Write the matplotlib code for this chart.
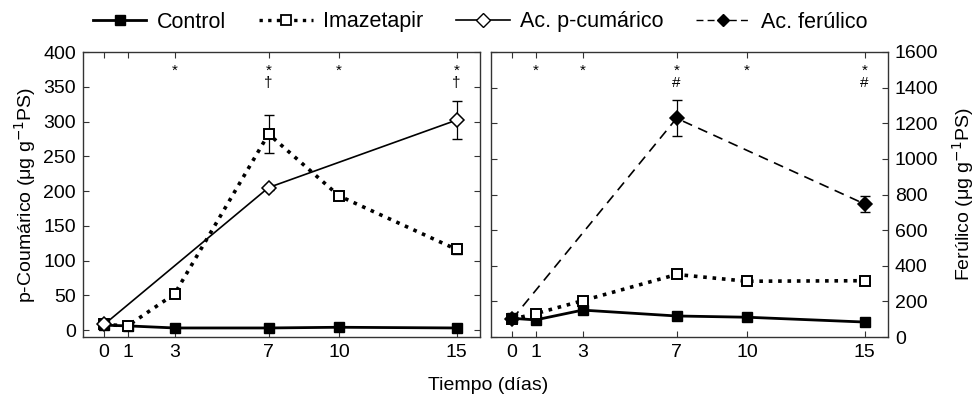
import numpy as np
import matplotlib
matplotlib.use('Agg')
import matplotlib.pyplot as plt
from matplotlib.lines import Line2D

# days sampled
dias = [0, 1, 3, 7, 10, 15]

# p-coumaric acid (left panel)
pc_control = [7, 6, 3, 3, 4, 3]
pc_imaz = [8, 6, 52, 282, 193, 116]
pc_imaz_err = [3, 2, 4, 27, 6, 6]
pc_dias_ac = [0, 7, 15]
pc_ac = [8, 205, 302]
pc_ac_err = [2, 3, 27]

# ferulic acid (right panel)
fe_control = [105, 96, 151, 118, 111, 84]
fe_imaz = [100, 131, 204, 351, 313, 316]
fe_imaz_err = [8, 8, 8, 10, 10, 8]
fe_dias_ac = [0, 7, 15]
fe_ac = [100, 1228, 747]
fe_ac_err = [8, 100, 43]

# significance marks
pc_sig_x = [3, 7, 10, 15]
pc_sig = ['*', '*\n†', '*', '*\n†']
fe_sig_x = [1, 3, 7, 10, 15]
fe_sig = ['*', '*', '*\n#', '*', '*\n#']

plt.rcParams['font.family'] = ['Liberation Sans', 'DejaVu Sans']
plt.rcParams['font.size'] = 14

fig = plt.figure(figsize=(9.76, 4.0), dpi=100)
ax1 = fig.add_axes([83/976, 1-337/400, 397/976, 285/400])
ax2 = fig.add_axes([491/976, 1-337/400, 397/976, 285/400])

frame = '#333333'

def style(ax):
    for s in ax.spines.values():
        s.set_color(frame)
        s.set_linewidth(1.0)
    ax.set_xlim(-0.9, 16)
    ax.set_xticks(dias)
    ax.tick_params(direction='in', length=4, width=0.8, color=frame,
                   top=True, right=True, labelsize=14, pad=5)

def draw(ax, control, imaz, imaz_err, xac, ac, ac_err, ac_ls, ac_fill):
    ax.plot(dias, control, '-', color='k', lw=2.0, marker='s', ms=6.5,
            mfc='k', mec='k', zorder=4)
    ax.errorbar(dias, imaz, yerr=imaz_err, fmt='none', ecolor='k', elinewidth=0.9,
                capsize=3.5, zorder=3)
    ax.plot(dias, imaz, color='k', ls=(0, (1, 1.6)), lw=2.6, marker='s', ms=6.5,
            mfc='white', mec='k', mew=1.4, zorder=5)
    ax.errorbar(xac, ac, yerr=ac_err, fmt='none', ecolor='k', elinewidth=0.9,
                capsize=3.5, zorder=3)
    ax.plot(xac, ac, color='k', ls=ac_ls, lw=1.2, marker='D', ms=7,
            mfc=ac_fill, mec='k', mew=1.1, zorder=6)

def marks(ax, xs, texts, y):
    # stacked marks share one text so the symbols never collide
    for x, t in zip(xs, texts):
        ax.text(x, y, t, ha='center', va='top', fontsize=11,
                linespacing=0.9, transform=ax.get_xaxis_transform())

style(ax1)
draw(ax1, pc_control, pc_imaz, pc_imaz_err, pc_dias_ac, pc_ac, pc_ac_err, '-', 'white')
ax1.set_ylim(-10, 400)
ax1.set_yticks(np.arange(0, 401, 50))
ax1.set_ylabel('p-Coumárico (μg g$^{-1}$PS)', fontsize=14, labelpad=4)
marks(ax1, pc_sig_x, pc_sig, 0.96)

style(ax2)
draw(ax2, fe_control, fe_imaz, fe_imaz_err, fe_dias_ac, fe_ac, fe_ac_err, (0, (6, 4)), 'k')
ax2.set_ylim(0, 1600)
ax2.set_yticks(np.arange(0, 1601, 200))
ax2.yaxis.tick_right()
ax2.tick_params(left=True, right=True, labelleft=False, labelright=True)
ax2.yaxis.set_label_position('right')
ax2.set_ylabel('Ferúlico (μg g$^{-1}$PS)', fontsize=14, rotation=90, labelpad=8)
marks(ax2, fe_sig_x, fe_sig, 0.96)

fig.text(488/976, 1-386/400, 'Tiempo (días)', ha='center', va='center', fontsize=14)

handles = [
    Line2D([], [], color='k', lw=2.0, marker='s', ms=6.5, mfc='k'),
    Line2D([], [], color='k', lw=2.4, ls=(0, (1, 1.6)), marker='s', ms=6.5, mfc='white', mew=1.3),
    Line2D([], [], color='k', lw=1.2, marker='D', ms=7, mfc='white'),
    Line2D([], [], color='k', lw=1.0, ls=(0, (5, 3)), marker='D', ms=6.5, mfc='k'),
]
labels = ['Control', 'Imazetapir', 'Ac. p-cumárico', 'Ac. ferúlico']
fig.legend(handles, labels, loc='center', bbox_to_anchor=(480/976, 1-22/400), ncol=4,
           frameon=False, fontsize=15.5, handlelength=2.5, columnspacing=1.5,
           handletextpad=0.5)

fig.savefig('out.png', dpi=100)
